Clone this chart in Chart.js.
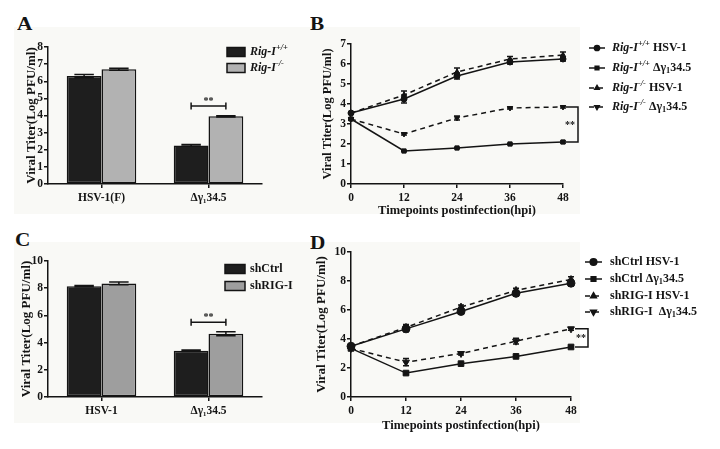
<!DOCTYPE html>
<html>
<head>
<meta charset="utf-8">
<script src="https://cdn.jsdelivr.net/npm/chart.js@4.4.0/dist/chart.umd.min.js"></script>
<style>
  body { margin: 0; background: #fff; width: 720px; height: 449px; position: relative; overflow: hidden; }
  .bg { position: absolute; background: #f9f9f6; }
  canvas { position: absolute; }
  .lbl { position: absolute; font: bold 18px/1 "Liberation Serif", serif; color: #141414; transform: scaleX(1.18); transform-origin: left top; }
</style>
</head>
<body>
<div class="bg" style="left:14px;top:27px;width:566px;height:187px"></div>
<div class="bg" style="left:14px;top:242px;width:566px;height:181px"></div>
<div class="lbl" style="left:17px;top:15px">A</div>
<div class="lbl" style="left:310px;top:15px">B</div>
<div class="lbl" style="left:15px;top:231px">C</div>
<div class="lbl" style="left:310px;top:234px">D</div>
<canvas id="chartA" width="300" height="225" style="left:0;top:0"></canvas>
<canvas id="chartB" width="420" height="225" style="left:300px;top:0"></canvas>
<canvas id="chartC" width="300" height="224" style="left:0;top:225px"></canvas>
<canvas id="chartD" width="420" height="224" style="left:300px;top:225px"></canvas>
<script>
const SERIF = '"Liberation Serif", "Times New Roman", serif';
const INK = '#141414';

// panel A - Rig-I MEFs
const catsA = ['HSV-1(F)', 'Δγ₁34.5'];
const rigWT = [6.3, 2.25];
const rigWTErr = [0.1, 0.05];
const rigKO = [6.7, 3.95];
const rigKOErr = [0.06, 0.04];

// panel C - shRNA cells
const catsC = ['HSV-1', 'Δγ₁34.5'];
const shCtrl = [8.15, 3.4];
const shCtrlErr = [0.05, 0.05];
const shRIG = [8.35, 4.65];
const shRIGErr = [0.1, 0.15];

// panels B and D - time course
const hours = [0, 12, 24, 36, 48];

const wtHsv = [3.55, 4.25, 5.4, 6.1, 6.25];
const wtHsvErr = [0.05, 0.2, 0.15, 0.1, 0.1];
const wtDelta = [3.25, 1.65, 1.8, 2.0, 2.1];
const wtDeltaErr = [0.05, 0.03, 0.03, 0.03, 0.05];
const koHsv = [3.55, 4.45, 5.6, 6.25, 6.45];
const koHsvErr = [0.05, 0.2, 0.2, 0.12, 0.15];
const koDelta = [3.25, 2.5, 3.3, 3.8, 3.85];
const koDeltaErr = [0.05, 0.05, 0.1, 0.05, 0.05];

const ctrlHsv = [3.5, 4.7, 5.9, 7.15, 7.85];
const ctrlHsvErr = [0.05, 0.2, 0.15, 0.15, 0.2];
const ctrlDelta = [3.35, 1.65, 2.3, 2.8, 3.45];
const ctrlDeltaErr = [0.05, 0.1, 0.05, 0.05, 0.05];
const rigHsv = [3.5, 4.8, 6.2, 7.35, 8.1];
const rigHsvErr = [0.05, 0.2, 0.15, 0.15, 0.2];
const rigDelta = [3.35, 2.4, 3.0, 3.85, 4.7];
const rigDeltaErr = [0.05, 0.25, 0.1, 0.2, 0.1];

Chart.defaults.font.family = SERIF;
Chart.defaults.font.weight = 'bold';
Chart.defaults.color = INK;
Chart.defaults.animation = false;

function font(size, italic) {
  return (italic ? 'italic ' : '') + 'bold ' + size + 'px ' + SERIF;
}

function drawRich(ctx, x, y, parts, size) {
  parts.forEach(p => {
    const fs = (p.sup || p.sub) ? size * 0.7 : size;
    ctx.font = font(fs, p.i);
    let dy = 0;
    if (p.sup) dy = -size * 0.35;
    if (p.sub) dy = size * 0.25;
    ctx.fillText(p.t, x, y + dy);
    x += ctx.measureText(p.t).width;
  });
}

const extras = {
  id: 'extras',
  afterDatasetsDraw(chart, args, opts) {
    const ctx = chart.ctx;
    const ys = chart.scales.y;
    ctx.save();
    ctx.strokeStyle = INK;
    ctx.fillStyle = INK;
    ctx.lineWidth = 1.5;

    // error bars
    chart.data.datasets.forEach((ds, i) => {
      if (!ds.errors) return;
      chart.getDatasetMeta(i).data.forEach((el, j) => {
        const d = ds.data[j];
        const v = typeof d === 'object' ? d.y : d;
        const e = ds.errors[j];
        const hi = ys.getPixelForValue(v + e);
        const lo = ys.getPixelForValue(v - e);
        const half = el.width ? el.width * 0.28 : 3;
        ctx.beginPath();
        ctx.moveTo(el.x, hi); ctx.lineTo(el.x, lo);
        ctx.moveTo(el.x - half, hi); ctx.lineTo(el.x + half, hi);
        ctx.moveTo(el.x - half, lo); ctx.lineTo(el.x + half, lo);
        ctx.stroke();
      });
    });

    // significance bracket over bars
    if (opts.barBracket) {
      const b = opts.barBracket;
      const x1 = chart.getDatasetMeta(0).data[b.index].x;
      const x2 = chart.getDatasetMeta(1).data[b.index].x;
      const y = ys.getPixelForValue(b.value);
      ctx.beginPath();
      ctx.moveTo(x1, y); ctx.lineTo(x2, y);
      ctx.moveTo(x1, y - 3.5); ctx.lineTo(x1, y + 3.5);
      ctx.moveTo(x2, y - 3.5); ctx.lineTo(x2, y + 3.5);
      ctx.stroke();
      ctx.font = font(10);
      ctx.textAlign = 'center';
      ctx.textBaseline = 'middle';
      ctx.fillText('**', (x1 + x2) / 2, y - 5);
    }

    // significance bracket at the end of the lines
    if (opts.lineBracket) {
      const b = opts.lineBracket;
      const x0 = chart.scales.x.getPixelForValue(b.x);
      const yh = ys.getPixelForValue(b.hi);
      const yl = ys.getPixelForValue(b.lo);
      ctx.beginPath();
      ctx.moveTo(x0 + b.d1, yh); ctx.lineTo(x0 + b.d2, yh);
      ctx.lineTo(x0 + b.d2, yl); ctx.lineTo(x0 + b.d1, yl);
      ctx.stroke();
      ctx.font = font(10);
      ctx.textAlign = 'center';
      ctx.textBaseline = 'middle';
      ctx.fillText('**', x0 + b.star, (yh + yl) / 2 + 1);
    }

    // legend
    if (opts.legend) {
      const L = opts.legend;
      ctx.textAlign = 'left';
      ctx.textBaseline = 'middle';
      L.rows.forEach(row => {
        const ds = chart.data.datasets[row.ds];
        if (L.type === 'bar') {
          ctx.fillStyle = ds.backgroundColor;
          ctx.fillRect(L.x1, row.y - 4.5, L.x2 - L.x1, 9);
          ctx.strokeRect(L.x1, row.y - 4.5, L.x2 - L.x1, 9);
        } else {
          ctx.setLineDash(ds.borderDash || []);
          ctx.beginPath();
          ctx.moveTo(L.x1, row.y); ctx.lineTo(L.x2, row.y);
          ctx.stroke();
          ctx.setLineDash([]);
          ctx.fillStyle = INK;
          Chart.helpers.drawPoint(ctx, {
            pointStyle: ds.pointStyle, radius: L.r,
            rotation: ds.pointRotation || 0, borderWidth: 1
          }, (L.x1 + L.x2) / 2, row.y);
        }
        ctx.fillStyle = INK;
        drawRich(ctx, L.tx, row.y, row.parts, 12);
      });
    }
    ctx.restore();
  }
};

function axisY(max, step, width, titleSize) {
  return {
    min: 0, max: max,
    ticks: { stepSize: step, padding: 1, font: { size: 11.5, weight: 'bold' }, color: INK },
    grid: { display: true, drawOnChartArea: false, drawTicks: true, tickLength: 4, color: INK, lineWidth: 1.5 },
    border: { display: true, color: INK, width: 1.5 },
    title: { display: true, text: 'Viral Titer(Log PFU/ml)', font: { size: titleSize, weight: 'bold' }, color: INK },
    afterFit: s => { s.width = width; }
  };
}

function axisCat(height) {
  return {
    grid: { display: true, offset: false, drawOnChartArea: false, drawTicks: true, tickLength: 4, color: INK, lineWidth: 1.5 },
    border: { display: true, color: INK, width: 1.5 },
    ticks: { padding: 3, font: { size: 11.5, weight: 'bold' }, color: INK },
    afterFit: s => { s.height = height; }
  };
}

function axisTime(height) {
  return {
    type: 'linear', min: 0, max: 48,
    ticks: { stepSize: 12, padding: 3, font: { size: 11.5, weight: 'bold' }, color: INK },
    grid: { display: true, drawOnChartArea: false, drawTicks: true, tickLength: 4, color: INK, lineWidth: 1.5 },
    border: { display: true, color: INK, width: 1.5 },
    title: { display: true, text: 'Timepoints postinfection(hpi)', font: { size: 12.5, weight: 'bold' }, color: INK },
    afterFit: s => { s.height = height; }
  };
}

function barDataset(data, errors, color) {
  return {
    data: data, errors: errors, backgroundColor: color,
    borderColor: INK, borderWidth: 1.5, borderSkipped: false,
    categoryPercentage: 0.65, barPercentage: 1.0
  };
}

function lineDataset(values, errors, style, dashed, rotation, radius) {
  return {
    data: hours.map((h, i) => ({ x: h, y: values[i] })),
    errors: errors,
    borderColor: INK, borderWidth: 1.5,
    borderDash: dashed ? [5, 4] : [],
    backgroundColor: INK,
    pointStyle: style, pointRotation: rotation || 0,
    pointRadius: radius, pointBackgroundColor: INK, pointBorderColor: INK, pointBorderWidth: 1,
    tension: 0, clip: false
  };
}

const rigPlus = { t: '+/+', sup: true, i: true };
const rigMinus = { t: '-/-', sup: true, i: true };
const rigI = { t: 'Rig-I', i: true };
const delta = [{ t: ' Δγ' }, { t: '1', sub: true }, { t: '34.5' }];

// A
new Chart(document.getElementById('chartA'), {
  type: 'bar',
  data: {
    labels: catsA,
    datasets: [barDataset(rigWT, rigWTErr, '#1e1e1e'), barDataset(rigKO, rigKOErr, '#b2b2b2')]
  },
  options: {
    responsive: false,
    layout: { padding: { left: 20, top: 47, right: 38, bottom: 21 } },
    scales: { x: axisCat(20), y: axisY(8, 1, 28, 13) },
    plugins: {
      legend: { display: false }, tooltip: { enabled: false },
      extras: {
        barBracket: { index: 1, value: 4.55 },
        legend: { type: 'bar', x1: 227, x2: 245, tx: 250, rows: [
          { ds: 0, y: 52, parts: [rigI, rigPlus] },
          { ds: 1, y: 68, parts: [rigI, rigMinus] }
        ] }
      }
    }
  },
  plugins: [extras]
});

// B
new Chart(document.getElementById('chartB'), {
  type: 'line',
  data: {
    datasets: [
      lineDataset(wtHsv, wtHsvErr, 'circle', false, 0, 3),
      lineDataset(wtDelta, wtDeltaErr, 'rect', false, 0, 3),
      lineDataset(koHsv, koHsvErr, 'triangle', true, 0, 3),
      lineDataset(koDelta, koDeltaErr, 'triangle', true, 180, 3)
    ]
  },
  options: {
    responsive: false,
    layout: { padding: { left: 16, top: 44, right: 157, bottom: 2.5 } },
    scales: { x: axisTime(38.5), y: axisY(7, 1, 35, 12.5) },
    plugins: {
      legend: { display: false }, tooltip: { enabled: false },
      extras: {
        lineBracket: { x: 48, hi: koDelta[4], lo: wtDelta[4], d1: 3, d2: 15, star: 7 },
        legend: { type: 'line', x1: 289, x2: 305, tx: 312, r: 2.6, rows: [
          { ds: 0, y: 48, parts: [rigI, rigPlus, { t: ' HSV-1' }] },
          { ds: 1, y: 68, parts: [rigI, rigPlus].concat(delta) },
          { ds: 2, y: 88, parts: [rigI, rigMinus, { t: ' HSV-1' }] },
          { ds: 3, y: 107, parts: [rigI, rigMinus].concat(delta) }
        ] }
      }
    }
  },
  plugins: [extras]
});

// C
new Chart(document.getElementById('chartC'), {
  type: 'bar',
  data: {
    labels: catsC,
    datasets: [barDataset(shCtrl, shCtrlErr, '#1e1e1e'), barDataset(shRIG, shRIGErr, '#9e9e9e')]
  },
  options: {
    responsive: false,
    layout: { padding: { left: 15, top: 36, right: 38, bottom: 32 } },
    scales: { x: axisCat(20), y: axisY(10, 2, 33, 13) },
    plugins: {
      legend: { display: false }, tooltip: { enabled: false },
      extras: {
        barBracket: { index: 1, value: 5.5 },
        legend: { type: 'bar', x1: 225, x2: 245, tx: 250, rows: [
          { ds: 0, y: 44, parts: [{ t: 'shCtrl' }] },
          { ds: 1, y: 61, parts: [{ t: 'shRIG-I' }] }
        ] }
      }
    }
  },
  plugins: [extras]
});

// D
new Chart(document.getElementById('chartD'), {
  type: 'line',
  data: {
    datasets: [
      lineDataset(ctrlHsv, ctrlHsvErr, 'circle', false, 0, 4),
      lineDataset(ctrlDelta, ctrlDeltaErr, 'rect', false, 0, 4),
      lineDataset(rigHsv, rigHsvErr, 'triangle', true, 0, 4),
      lineDataset(rigDelta, rigDeltaErr, 'triangle', true, 180, 4)
    ]
  },
  options: {
    responsive: false,
    layout: { padding: { left: 10, top: 27, right: 149, bottom: 11.5 } },
    scales: { x: axisTime(40.5), y: axisY(10, 2, 41, 13) },
    plugins: {
      legend: { display: false }, tooltip: { enabled: false },
      extras: {
        lineBracket: { x: 48, hi: rigDelta[4], lo: ctrlDelta[4], d1: 4, d2: 17, star: 10 },
        legend: { type: 'line', x1: 285, x2: 302, tx: 310, r: 3.3, rows: [
          { ds: 0, y: 37, parts: [{ t: 'shCtrl HSV-1' }] },
          { ds: 1, y: 54, parts: [{ t: 'shCtrl' }].concat(delta) },
          { ds: 2, y: 71, parts: [{ t: 'shRIG-I HSV-1' }] },
          { ds: 3, y: 87, parts: [{ t: 'shRIG-I ' }].concat(delta) }
        ] }
      }
    }
  },
  plugins: [extras]
});
</script>
</body>
</html>
